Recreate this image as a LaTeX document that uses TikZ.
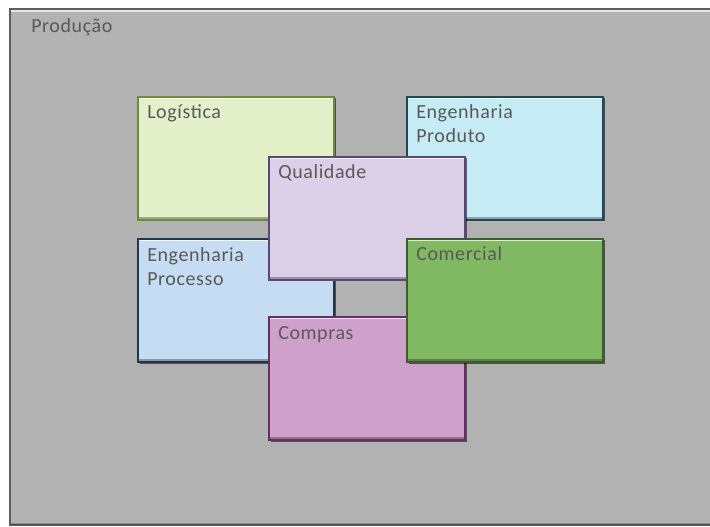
\documentclass[tikz,border=0pt]{standalone}
\usepackage{fontspec}
\setmainfont[LetterSpace=3]{Carlito}
\definecolor{txtgray}{HTML}{595959}
\definecolor{outfill}{HTML}{B2B2B2}
\definecolor{outline}{HTML}{5E5E5E}
\definecolor{logfill}{HTML}{E3F0CA}
\definecolor{logline}{HTML}{6E8A3C}
\definecolor{prodfill}{HTML}{C5EBF5}
\definecolor{prodline}{HTML}{1F4B57}
\definecolor{qualfill}{HTML}{DCD0E8}
\definecolor{qualline}{HTML}{5C4878}
\definecolor{procfill}{HTML}{C6DCF2}
\definecolor{procline}{HTML}{22354D}
\definecolor{comfill}{HTML}{81B963}
\definecolor{comline}{HTML}{3E5C2E}
\definecolor{compfill}{HTML}{CFA0CA}
\definecolor{compline}{HTML}{692D65}
\newcommand\twolines[2]{\vtop{\baselineskip=18pt\hbox{#1}\hbox{#2}}}
\tikzset{
  panel/.style={draw=#1, line width=1.3pt, rectangle, inner sep=0pt,
    minimum width=147pt, minimum height=92.25pt, anchor=north west},
  boxtext/.style={anchor=base west, text=txtgray, inner sep=0pt,
    font=\fontsize{15}{18}\selectfont},
  hilite/.style={white, opacity=0.75, line width=1.2pt},
  lowlite/.style={black, opacity=0.3, line width=1.2pt},
}
\newcommand\bevbox[6]{%
  \fill[black, opacity=0.55, shift={(2.5,2.5)}] (#2) rectangle ++(196,123);
  \node[panel=#4, fill=#3] (#1) at (#2) {};
  \draw[hilite] ([shift={(2,2.5)}]#1.north west) -- ([shift={(-2,2.5)}]#1.north east);
  \draw[lowlite] ([shift={(2,-2.5)}]#1.south west) -- ([shift={(-2,-2.5)}]#1.south east);
  \node[boxtext] (#1t) at ([shift={(10,#6)}]#1.north west) {#5};
}
\begin{document}
\begin{tikzpicture}[x=0.75pt,y=-0.75pt]
\useasboundingbox (0,0) rectangle (710,527);
\clip (0,0) rectangle (710,527);
\fill[white] (0,0) rectangle (710,527);
% outer panel
\node[draw=outline, fill=outfill, line width=1.8pt, rectangle, inner sep=0pt,
  minimum width=533.25pt, minimum height=387pt, anchor=north west] (prod) at (9,8) {};
\draw[white, opacity=0.7, line width=1.2pt] ([shift={(2,3)}]prod.north west) -- ([shift={(-2,3)}]prod.north east);
\draw[black, opacity=0.2, line width=1.2pt] ([shift={(2,-2.5)}]prod.south west) -- ([shift={(-2,-2.5)}]prod.south east);
\node[boxtext] (prodt) at (31,33) {Produção};
% boxes
\bevbox{log}{137,96}{logfill}{logline}{Logística}{23}
\bevbox{eprod}{406,96}{prodfill}{prodline}{\twolines{Engenharia}{Produto}}{23}
\bevbox{eproc}{137,238}{procfill}{procline}{\twolines{Engenharia}{Processo}}{24}
\bevbox{qual}{268,156}{qualfill}{qualline}{Qualidade}{23}
\bevbox{comp}{268,316}{compfill}{compline}{Compras}{23}
\bevbox{com}{406,238}{comfill}{comline}{Comercial}{23}
\end{tikzpicture}
\end{document}
